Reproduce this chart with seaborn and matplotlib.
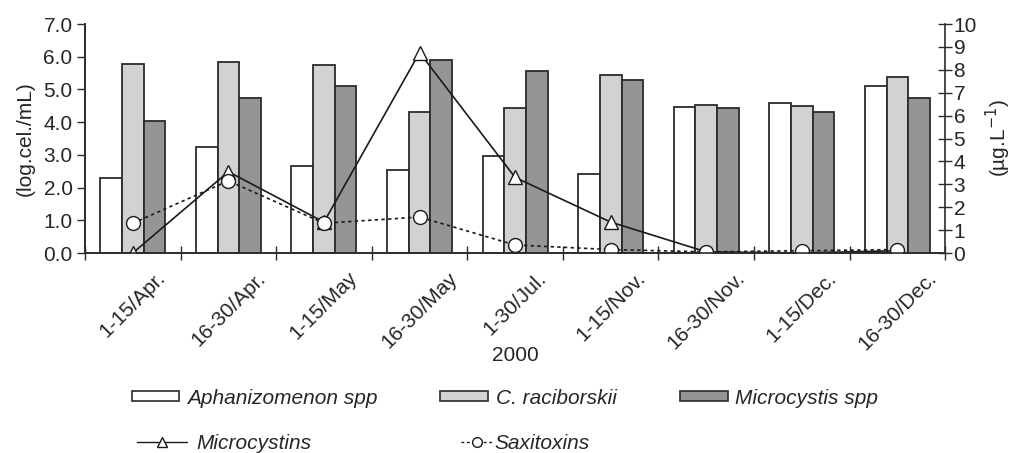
import numpy as np
import pandas as pd
import matplotlib
matplotlib.use("Agg")
import matplotlib.pyplot as plt
from matplotlib.patches import Patch
from matplotlib.lines import Line2D
import seaborn as sns

sns.set_style("ticks")
plt.rcParams["font.family"] = ["Liberation Sans", "DejaVu Sans"]
plt.rcParams["font.size"] = 15

# data
periods = ["1-15/Apr.", "16-30/Apr.", "1-15/May", "16-30/May", "1-30/Jul.",
           "1-15/Nov.", "16-30/Nov.", "1-15/Dec.", "16-30/Dec."]
species = ["Aphanizomenon spp", "C. raciborskii", "Microcystis spp"]
aphanizomenon = [2.30, 3.25, 2.65, 2.55, 2.95, 2.42, 4.45, 4.60, 5.12]
raciborskii = [5.78, 5.85, 5.75, 4.30, 4.42, 5.45, 4.52, 4.50, 5.37]
microcystis = [4.05, 4.75, 5.10, 5.90, 5.55, 5.30, 4.42, 4.30, 4.75]
microcystins = [0.0, 3.55, 1.35, 8.75, 3.30, 1.35, 0.05, 0.0, 0.10]
saxitoxins = [1.30, 3.15, 1.30, 1.57, 0.35, 0.15, 0.05, 0.10, 0.15]

colors = ["#ffffff", "#d1d2d4", "#949599"]
edge = "#2b2b2b"
ink = "#1a1a1a"

df = pd.DataFrame({
    "period": periods * 3,
    "species": np.repeat(species, len(periods)),
    "value": aphanizomenon + raciborskii + microcystis,
})

fig = plt.figure(figsize=(10.12, 4.53), dpi=100)
ax = fig.add_axes([0.084, 0.4415, 0.85, 0.5055])

sns.barplot(data=df, x="period", y="value", hue="species", order=periods,
            hue_order=species, palette=colors, width=0.68, gap=0,
            edgecolor=edge, linewidth=1.3, ax=ax, legend=False)

ax.set_xlim(-0.5, 8.5)
ax.set_ylim(0, 7)
ax.set_yticks(np.arange(0, 7.01, 1.0))
ax.set_yticklabels([f"{v:.1f}" for v in np.arange(0, 7.01, 1.0)])
ax.set_ylabel("(log.cel./mL)", labelpad=6)
ax.set_xlabel("2000", labelpad=-6)
ax.set_xticks(range(len(periods)))
ax.set_xticklabels(periods, rotation=45, ha="center", va="top")
ax.tick_params(axis="x", which="major", length=0, pad=11)
ax.set_xticks(np.arange(-0.5, 9, 1), minor=True)
ax.tick_params(axis="x", which="minor", direction="inout", length=10, width=1, color=edge)
ax.tick_params(axis="y", direction="out", length=6, width=1, color=edge, pad=3)

ax2 = ax.twinx()
sns.lineplot(x=periods, y=microcystins, ax=ax2, color=ink, linewidth=1.2,
             marker="^", markersize=10, markerfacecolor="white",
             markeredgecolor=ink, markeredgewidth=1.0, sort=False)
sns.lineplot(x=periods, y=saxitoxins, ax=ax2, color=ink, linewidth=1.2,
             linestyle=(0, (2, 2)), marker="o", markersize=10,
             markerfacecolor="white", markeredgecolor=ink,
             markeredgewidth=1.0, sort=False)
ax2.set_ylim(0, 10)
ax2.set_yticks(range(0, 11))
ax2.set_ylabel("(µg.L$^{-1}$)", rotation=90, labelpad=5)
ax2.yaxis.set_label_position("right")
ax2.tick_params(axis="y", direction="inout", length=10, width=1, color=edge, pad=1)
ax2.set_xlim(-0.5, 8.5)

for a in (ax, ax2):
    a.spines["top"].set_visible(False)
    for s in ("left", "bottom", "right"):
        a.spines[s].set_color(edge)
        a.spines[s].set_linewidth(1.2)
ax.spines["right"].set_visible(False)

legend_font = {"style": "italic", "size": 15}

bar_handles = [Patch(facecolor=c, edgecolor=edge, linewidth=1.2) for c in colors]
fig.legend(bar_handles, species, loc="center left", bbox_to_anchor=(0.130, 0.121),
           ncol=3, frameon=False, borderpad=0, borderaxespad=0, handlelength=2.3,
           handleheight=0.38, handletextpad=0.38, columnspacing=3.0, prop=legend_font)

mc_handle = Line2D([], [], color=ink, linewidth=1.0, marker="^", markersize=7,
                   markerfacecolor="white", markeredgecolor=ink)
sx_handle = Line2D([], [], color=ink, linewidth=1.0, linestyle=(0, (2, 2)), marker="o",
                   markersize=7, markerfacecolor="white", markeredgecolor=ink)
fig.legend([mc_handle], ["Microcystins"], loc="center left", bbox_to_anchor=(0.135, 0.020),
           frameon=False, borderpad=0, borderaxespad=0, handlelength=2.4,
           handletextpad=0.48, prop=legend_font)
fig.legend([sx_handle], ["Saxitoxins"], loc="center left", bbox_to_anchor=(0.456, 0.020),
           frameon=False, borderpad=0, borderaxespad=0, handlelength=1.45,
           handletextpad=0.15, prop=legend_font)

fig.savefig("out.png", dpi=100)
